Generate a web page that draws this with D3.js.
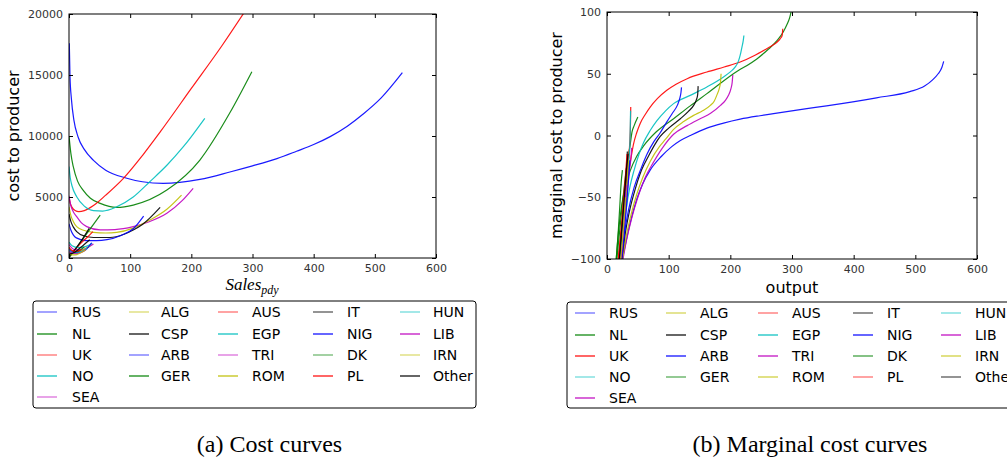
<!DOCTYPE html>
<html><head><meta charset="utf-8">
<script src="https://cdn.jsdelivr.net/npm/d3@7"></script>
<style>body{margin:0;background:#fff}svg{display:block}</style>
</head><body><svg id="c" width="1007" height="461"></svg>
<script>
// ---------- data ----------
const names = ["RUS","NL","UK","NO","SEA","ALG","CSP","ARB","GER","AUS","EGP","TRI","ROM","IT","NIG","DK","PL","HUN","LIB","IRN","Other"];
const palette = ["#0000ff","#008000","#ff0000","#00bfbf","#bf00bf","#bfbf00","#000000"];
const legendAlphaA = [0.6,1,0.6,1,0.6,0.6,1,0.6,1,0.6,1,0.6,1,0.7,1,0.6,1,0.6,1,0.6,1];
const legendAlphaB = [0.6,1,1,0.6,1,0.7,1,1,0.7,0.6,1,1,0.8,0.7,1,0.8,0.6,0.6,1,0.8,0.7];

const xTicks = [0,100,200,300,400,500,600];
const costTicks = [0,5000,10000,15000,20000];
const mcTicks = [-100,-50,0,50,100];

// cost to producer vs sales  [sales, cost]
const costRUS = [[0.5,17600],[1.6,14900],[4,13000],[8,11300],[15,9900],[25,8900],[40,8000],[60,7200],[93,6560],[120,6250],[154,6120],[214,6450],[263,7050],[300,7550],[340,8150],[372,8750],[400,9300],[427,9950],[455,10800],[481,11800],[510,13100],[545,15190]];
const costNL  = [[0,10000],[3,8600],[7,7480],[14,6300],[23,5570],[35,4900],[51,4480],[78,4150],[105,4340],[160,5570],[214,8030],[263,11900],[299,15270]];
const costUK  = [[0,5000],[2,4500],[5,4150],[10,3900],[16,3800],[25,3880],[40,4300],[60,5150],[89,6530],[120,8400],[150,10400],[200,13900],[250,17400],[290,20400]];
const costNO  = [[0,7500],[2,6600],[5,5900],[12.6,5020],[25,4250],[40,3880],[55,3850],[78,4200],[105,5000],[132,6250],[160,7600],[187,9120],[222,11450]];
const costSEA = [[0,5100],[3,4300],[7,3800],[12.6,3390],[20,2900],[29,2570],[51,2300],[75,2330],[105,2570],[130,2950],[160,3660],[185,4700],[203,5710]];
const costALG = [[0,4200],[3,3500],[7,3000],[12.6,2570],[25,2250],[40,2100],[60,2050],[78,2100],[105,2450],[132,3110],[160,4000],[184,5160]];
const costCSP = [[0,3600],[3,3000],[7,2550],[12.6,2160],[25,1800],[40,1680],[67,1680],[90,1950],[105,2300],[120,2750],[149,4150]];
const costARB = [[0,2800],[3,2300],[7,1900],[12,1650],[29,1420],[45,1420],[62,1500],[85,1850],[105,2400],[122,3440]];
const costGER = [[0,0],[51,3520]];
const costAUS = [[1,300],[10,700],[20,1250],[30,1700],[39,2160]];
const costEGP = [[0,1300],[5,1000],[15,850],[28,950],[38,1200]];
const costTRI = [[0,1100],[8,700],[20,650],[30,850],[40,1150]];
const costROM = [[0,800],[10,500],[20,600],[35,1000]];
const costIT  = [[0,100],[10,700],[20,1400],[33,2430]];
const costNIG = [[0,700],[8,450],[20,500],[30,800],[37,1250]];
const costDK  = [[0,400],[10,450],[25,900]];
const costPL  = [[0,900],[5,600],[12,550],[20,700]];
const costHUN = [[0,600],[10,400],[20,500],[30,800]];
const costLIB = [[0,500],[10,350],[20,450],[28,700]];
const costIRN = [[0,300],[10,250],[20,450],[27,650]];
const costOther = [[0,300],[10,500],[20,900],[34,1500]];

// marginal cost vs output  [output, marginal cost]
const mcRUS = [[25,-100],[30,-88],[37,-72],[48,-52],[58,-39],[70,-28],[88,-17],[105,-9],[119,-4],[135,0],[162,6],[189,10],[216,13.2],[248,16],[270,17.7],[324,21.7],[356,24],[437,30.5],[491,35.5],[515,40],[528,45],[537,50],[543,55],[546,60]];
const mcNL  = [[15,-100],[19,-76],[24,-56],[30,-41],[38,-28],[48,-17],[60,-8],[80,3],[108,13.6],[135,24],[162,33.9],[205,50],[243,62],[262,70],[276,77],[286,84],[292,90],[296,95],[298.5,100]];
const mcUK  = [[18,-100],[22,-82],[26,-64],[30,-48],[35,-30],[40,-15],[43,-7],[48,2],[54,10],[62,17],[70,23],[82,30],[97,36.6],[112,41.5],[130,46],[162,51.4],[190,55.5],[216,59.5],[240,65],[259,70.3],[270,73.5],[276,75.7],[281,78.5],[284,81],[285,86.5]];
const mcNO  = [[22,-100],[26,-80],[31,-60],[37,-42],[44,-28],[52,-15],[59,-6],[70,4],[81,12],[95,20],[108,25.8],[135,32.5],[162,39.3],[189,47.4],[200,51.5],[208,55.5],[213,60],[216,65],[219,72],[221,77],[222,81]];
const mcSEA = [[26,-100],[32,-84],[40,-67],[50,-50],[62,-34],[75,-22],[90,-10],[108,1],[130,8],[151,13.6],[168,18],[184,24.4],[192,28.5],[197,32.5],[201,38],[203,43],[204,49]];
const mcALG = [[25,-100],[31,-82],[39,-64],[48,-48],[58,-34],[70,-21],[85,-9],[95,-3],[108,5],[125,11.5],[140.5,16.3],[155,20],[167.6,24.4],[174,28],[178,32.5],[182,38],[184,43],[185,50]];
const mcCSP = [[24,-100],[30,-78],[37,-60],[46,-43],[56,-28],[68,-16],[78,-7],[86,-1],[100,6],[119,13.6],[132,19.5],[140.5,24.4],[145,29],[147,33],[147.8,40]];
const mcARB = [[23,-100],[28,-80],[35,-60],[44,-42],[55,-27],[65,-15],[76,-5],[86,2],[97,11],[106,18],[114,24.4],[118,30],[120,35],[120.8,39]];
const mcGER = [[16,-100],[20,-80],[25,-55],[32,-25],[38,-6],[40.5,2.8],[44,8],[50,15]];
const mcAUS = [[19,-100],[23,-80],[28,-55],[32,-35],[35,-18],[37,-5],[38,8],[38.5,23]];
const mcEGP = [[21,-100],[25,-80],[29,-60],[33,-38],[36,-18],[37.5,0],[38.2,20]];
const mcTRI = [[22,-100],[27,-75],[32,-50],[36,-30],[39,-17],[40,-10]];
const mcROM = [[22,-100],[26,-80],[30,-55],[33,-35],[35,-20]];
const mcIT  = [[21,-100],[25,-75],[29,-45],[31.5,-28],[33,-13]];
const mcNIG = [[24,-100],[28,-80],[32,-55],[35,-35],[37,-20]];
const mcDK  = [[15,-100],[18,-80],[21,-55],[23,-38],[25,-28]];
const mcPL  = [[19,-100],[23,-75],[27,-50],[30,-32],[32.5,-15]];
const mcHUN = [[22,-100],[25,-82],[28,-62],[30,-45]];
const mcLIB = [[23,-100],[26,-80],[29,-55],[31,-40]];
const mcIRN = [[22,-100],[25,-85],[28,-65],[30,-50]];
const mcOther = [[20,-100],[24,-75],[28,-50],[31,-30],[34,-15]];

const costCurves = [costRUS,costNL,costUK,costNO,costSEA,costALG,costCSP,costARB,costGER,costAUS,costEGP,costTRI,costROM,costIT,costNIG,costDK,costPL,costHUN,costLIB,costIRN,costOther];
const mcCurves = [mcRUS,mcNL,mcUK,mcNO,mcSEA,mcALG,mcCSP,mcARB,mcGER,mcAUS,mcEGP,mcTRI,mcROM,mcIT,mcNIG,mcDK,mcPL,mcHUN,mcLIB,mcIRN,mcOther];

// ---------- drawing ----------
const svg = d3.select("#c");
const color = i => palette[i % palette.length];
const tickFont = "DejaVu Sans, sans-serif";

function panel(cfg) {
  const x = d3.scaleLinear().domain([0,600]).range([cfg.x0, cfg.x1]);
  const y = d3.scaleLinear().domain(cfg.yDomain).range([cfg.y1, cfg.y0]);
  const clipId = "clip" + cfg.id;
  svg.append("clipPath").attr("id", clipId).append("rect")
    .attr("x", cfg.x0).attr("y", cfg.y0).attr("width", cfg.x1 - cfg.x0).attr("height", cfg.y1 - cfg.y0);

  const line = d3.line().x(d => x(d[0])).y(d => y(d[1])).curve(d3.curveMonotoneX);
  const g = svg.append("g").attr("clip-path", `url(#${clipId})`);
  cfg.curves.forEach((c, i) => {
    g.append("path").attr("d", line(c)).attr("fill", "none")
      .attr("stroke", color(i)).attr("stroke-width", 1.2)
      .attr("stroke-opacity", 0.9);
  });

  const styleAxis = sel => {
    sel.selectAll("text").attr("font-family", tickFont).attr("font-size", 11).attr("fill", "#333");
    sel.selectAll("line").attr("stroke", "#000");
    sel.select(".domain").remove();
  };
  svg.append("g").attr("transform", `translate(0,${cfg.y1})`)
    .call(d3.axisBottom(x).tickValues(xTicks).tickSizeInner(-4).tickSizeOuter(0).tickPadding(6).tickFormat(d3.format("d")))
    .call(styleAxis);
  svg.append("g").attr("transform", `translate(0,${cfg.y0})`)
    .call(d3.axisTop(x).tickValues(xTicks).tickSizeInner(-4).tickSizeOuter(0).tickFormat(""))
    .call(styleAxis);
  svg.append("g").attr("transform", `translate(${cfg.x0},0)`)
    .call(d3.axisLeft(y).tickValues(cfg.yTicks).tickSizeInner(-4).tickSizeOuter(0).tickPadding(6).tickFormat(d => d < 0 ? "\u2212" + Math.abs(d) : String(d)))
    .call(styleAxis);
  svg.append("g").attr("transform", `translate(${cfg.x1},0)`)
    .call(d3.axisRight(y).tickValues(cfg.yTicks).tickSizeInner(-4).tickSizeOuter(0).tickFormat(""))
    .call(styleAxis);

  svg.append("rect").attr("x", cfg.x0).attr("y", cfg.y0)
    .attr("width", cfg.x1 - cfg.x0).attr("height", cfg.y1 - cfg.y0)
    .attr("fill", "none").attr("stroke", "#000").attr("stroke-width", 1);

  svg.append("text").attr("transform", `translate(${cfg.yLabelX},${(cfg.y0 + cfg.y1) / 2}) rotate(-90)`)
    .attr("text-anchor", "middle").attr("font-family", tickFont).attr("font-size", 16)
    .attr("fill", "#000").text(cfg.yLabel);

  // legend
  const lg = svg.append("g");
  lg.append("rect").attr("x", cfg.leg.x).attr("y", cfg.leg.y).attr("width", cfg.leg.w).attr("height", cfg.leg.h)
    .attr("rx", 3).attr("fill", "#fff").attr("stroke", "#000").attr("stroke-width", 1);
  names.forEach((n, i) => {
    const col = i < 5 ? 0 : 1 + Math.floor((i - 5) / 4);
    const row = i < 5 ? i : (i - 5) % 4;
    const ly = cfg.leg.rows[row];
    lg.append("line").attr("x1", cfg.leg.lineX[col]).attr("x2", cfg.leg.lineX[col] + 20)
      .attr("y1", ly).attr("y2", ly).attr("stroke", color(i)).attr("stroke-width", 1.2)
      .attr("stroke-opacity", cfg.alpha[i]);
    lg.append("text").attr("x", cfg.leg.textX[col]).attr("y", ly).attr("dy", "0.36em")
      .attr("font-family", tickFont).attr("font-size", 14).attr("fill", "#000").text(n);
  });

  svg.append("text").attr("x", (cfg.x0 + cfg.x1) / 2 + cfg.capDx).attr("y", 452)
    .attr("text-anchor", "middle").attr("font-family", "Liberation Serif, serif").attr("font-size", 24)
    .attr("fill", "#000").text(cfg.caption);
  return {x, y};
}

panel({
  id: "a", x0: 69, x1: 436, y0: 14, y1: 258, yDomain: [0, 20000], yTicks: costTicks,
  curves: costCurves, yLabel: "cost to producer", yLabelX: 19, alpha: legendAlphaA,
  leg: {x: 33, y: 301, w: 443, h: 107, lineX: [37,129,218,313,400], textX: [72,161,252,347,433], rows: [312,334,355,376,397]},
  caption: "(a) Cost curves", capDx: 17
});
const xl = svg.append("text").attr("x", 252).attr("y", 290).attr("text-anchor", "middle")
  .attr("font-family", "Liberation Serif, serif").attr("font-style", "italic").attr("font-size", 17).attr("fill", "#000");
xl.append("tspan").text("Sales");
xl.append("tspan").attr("dy", 4).attr("font-size", 12).text("pdy");

panel({
  id: "b", x0: 607, x1: 977, y0: 12, y1: 259, yDomain: [-100, 100], yTicks: mcTicks,
  curves: mcCurves, yLabel: "marginal cost to producer", yLabelX: 562, alpha: legendAlphaB,
  leg: {x: 567, y: 302, w: 445, h: 106, lineX: [575,666,758,853,941], textX: [609,700,792,887,975], rows: [313,335,356,377,398]},
  caption: "(b) Marginal cost curves", capDx: 18
});
svg.append("text").attr("x", 792).attr("y", 293).attr("text-anchor", "middle")
  .attr("font-family", tickFont).attr("font-size", 16).attr("fill", "#000").text("output");
</script></body></html>
